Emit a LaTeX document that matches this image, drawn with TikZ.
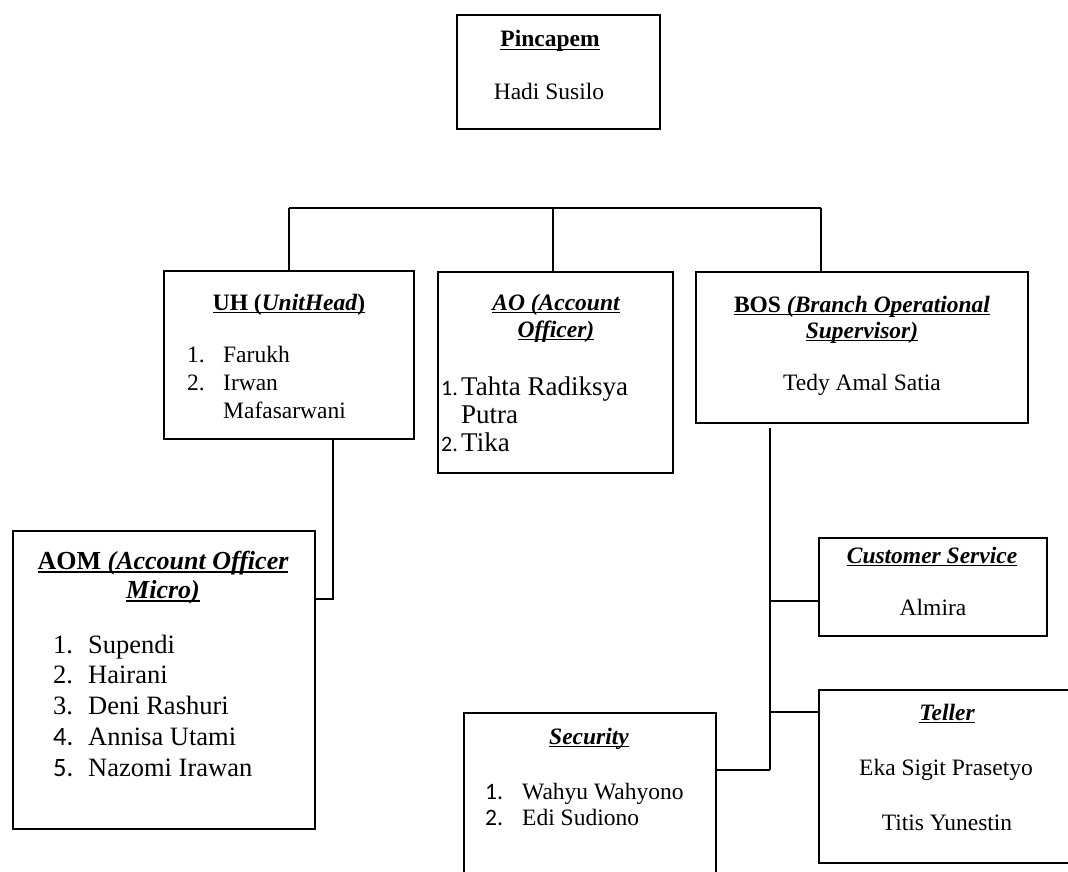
\documentclass[tikz,border=0pt]{standalone}
\usepackage{fontspec}
\setmainfont{Liberation Serif}
\newfontfamily\calib{Carlito}
\newcommand\myul[1]{\setbox0\hbox{#1}\rlap{\rule[-0.14em]{\wd0}{0.07em}}\box0}
\newcommand\ctrlines[1]{\vtop{\halign{\hfil##\hfil\cr#1\crcr}}}
\newcommand\numlist[2]{\vtop{\halign{\hbox to #1{##\hfil}&##\hfil\cr#2\crcr}}}
\begin{document}
\begin{tikzpicture}[x=1pt,y=-1pt,
  box/.style={draw, line width=1.8pt, rectangle, anchor=north west, inner sep=0pt},
  conn/.style={line width=1.3pt},
  ttl/.style={inner sep=0pt, anchor=base, font=\fontsize{23.5}{27}\selectfont},
  lst/.style={inner sep=0pt, anchor=base west, font=\fontsize{23.5}{28}\selectfont}]
\useasboundingbox (0,0) rectangle (1068,872);
\fill[white] (0,0) rectangle (1068,872);
\clip (0,0) rectangle (1068,872);
% boxes
\node[box, minimum width=203pt, minimum height=114pt] (pin) at (456,14) {};
\node[box, minimum width=250pt, minimum height=168pt] (uh) at (163,270) {};
\node[box, minimum width=235pt, minimum height=201pt] (ao) at (437,271) {};
\node[box, minimum width=332pt, minimum height=151pt] (bos) at (695,271) {};
\node[box, minimum width=302pt, minimum height=298pt] (aom) at (12,530) {};
\node[box, minimum width=228pt, minimum height=98pt] (cs) at (818,537) {};
\node[box, minimum width=254pt, minimum height=173pt] (tel) at (818,689) {};
\node[box, minimum width=252pt, minimum height=190pt] (sec) at (463,712) {};
% connectors
\coordinate (barL) at (289,208);
\coordinate (barM) at (553,208);
\coordinate (barR) at (821,208);
\draw[conn] (barL) -- (barR);
\draw[conn] (barL) -- (barL |- uh.north);
\draw[conn] (barM) -- (barM |- ao.north);
\draw[conn] (barR) -- (barR |- bos.north);
\coordinate (uhd) at (333,599);
\draw[conn] (uhd |- uh.south) -- (uhd) -- (uhd -| aom.east);
\coordinate (bt) at (770,428);
\coordinate (bb) at (770,770);
\coordinate (bcs) at (770,601);
\coordinate (btl) at (770,712);
\draw[conn] (bt) -- (bb);
\draw[conn] (bcs) -- (bcs -| cs.west);
\draw[conn] (btl) -- (btl -| tel.west);
\draw[conn] (bb) -- (bb -| sec.east);
% texts
\node[ttl] (tpin) at (550,47) {\myul{\bfseries Pincapem}};
\node[ttl] (npin) at (549,100) {Hadi Susilo};
\node[ttl] (tuh) at (289,310) {\myul{\bfseries UH (\itshape UnitHead\/\upshape)}};
\node[lst] (luh) at (187,362) {\numlist{36pt}{1.&Farukh\cr 2.&Irwan\cr &Mafasarwani}};
\node[ttl] (tao) at (556,310) {\ctrlines{\myul{\bfseries\itshape AO (Account}\cr\myul{\bfseries\itshape Officer)}}};
\node[lst, font=\fontsize{27}{28}\selectfont] (lao) at (441,395) {\numlist{20pt}{{\calib\fontsize{22}{28}\selectfont 1.}&Tahta Radiksya\cr &Putra\cr {\calib\fontsize{22}{28}\selectfont 2.}&Tika}};
\node[ttl, font=\fontsize{23.5}{26}\selectfont] (tbos) at (862,312) {\ctrlines{\myul{\bfseries BOS \itshape(Branch Operational}\cr\myul{\bfseries\itshape Supervisor)}}};
\node[ttl] (nbos) at (862,390) {Tedy Amal Satia};
\node[ttl, font=\fontsize{26}{29}\selectfont] (taom) at (163,569) {\ctrlines{\myul{\bfseries AOM \itshape(Account Officer}\cr\myul{\bfseries\itshape Micro)}}};
\node[lst, font=\fontsize{26.5}{30.75}\selectfont] (laom) at (53,653) {\numlist{35pt}{1.&Supendi\cr 2.&Hairani\cr 3.&Deni Rashuri\cr {\calib 4.}&Annisa Utami\cr {\calib 5.}&Nazomi Irawan}};
\node[ttl] (tcs) at (932,563) {\myul{\bfseries\itshape Customer Service}};
\node[ttl] (ncs) at (933,615) {Almira};
\node[ttl] (ttel) at (947,720) {\myul{\bfseries\itshape Teller}};
\node[ttl] (ntel1) at (946,775) {Eka Sigit Prasetyo};
\node[ttl] (ntel2) at (947,830) {Titis Yunestin};
\node[ttl] (tsec) at (589,744) {\myul{\bfseries\itshape Security}};
\node[lst, font=\fontsize{23.5}{26}\selectfont] (lsec) at (485,799) {\numlist{37pt}{{\calib 1.}&Wahyu Wahyono\cr {\calib 2.}&Edi Sudiono}};
\end{tikzpicture}
\end{document}
